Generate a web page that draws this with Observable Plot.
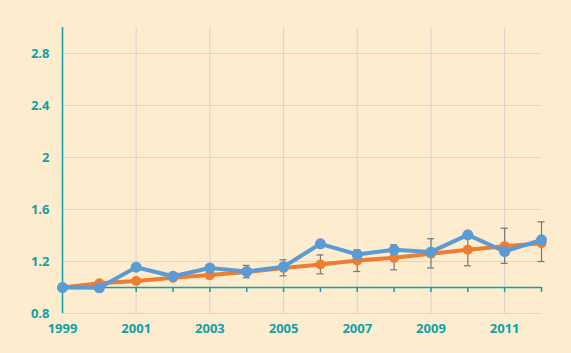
<!DOCTYPE html>
<html>
<head>
<meta charset="utf-8">
<script src="https://cdn.jsdelivr.net/npm/d3@7"></script>
<script src="https://cdn.jsdelivr.net/npm/@observablehq/plot@0.6"></script>
<style>
  html, body { margin: 0; padding: 0; background: #fdedce; }
  #chart { width: 571px; height: 353px; }
</style>
</head>
<body>
<div id="chart"></div>
<script>
const years = [1999, 2000, 2001, 2002, 2003, 2004, 2005, 2006, 2007, 2008, 2009, 2010, 2011, 2012];
const trend = [1.0, 1.033, 1.05, 1.075, 1.097, 1.12, 1.15, 1.177, 1.208, 1.228, 1.259, 1.29, 1.318, 1.34];
const observed = [1.0, 0.998, 1.156, 1.087, 1.15, 1.123, 1.16, 1.336, 1.254, 1.29, 1.274, 1.405, 1.277, 1.367];
const errLow = [1.0, 1.03, 1.04, 1.06, 1.067, 1.075, 1.09, 1.105, 1.123, 1.136, 1.15, 1.167, 1.185, 1.2];
const errHigh = [1.0, 1.036, 1.06, 1.09, 1.127, 1.17, 1.213, 1.25, 1.29, 1.328, 1.375, 1.41, 1.456, 1.505];
const xTicks = [1999, 2001, 2003, 2005, 2007, 2009, 2011];
const yTicks = [0.8, 1.2, 1.6, 2, 2.4, 2.8];

const rows = years.map((y, i) => ({year: y, trend: trend[i], observed: observed[i], lo: errLow[i], hi: errHigh[i]}));
const errRows = rows.filter(d => d.hi > d.lo);

const teal = "#12a0a6";
const grid = "#d9d6cf";

const chart = Plot.plot({
  width: 571,
  height: 353,
  marginLeft: 62,
  marginRight: 30,
  marginTop: 27,
  marginBottom: 40,
  style: {background: "#fdedce", fontFamily: "'Open Sans', sans-serif", fontWeight: "bold", fontSize: "13px", color: teal},
  x: {domain: [1999, 2012], ticks: xTicks, tickFormat: d => String(d), label: null},
  y: {domain: [0.8, 3.0], ticks: yTicks, tickFormat: d => String(d), label: null},
  marks: [
    Plot.ruleX(xTicks, {x: d => d, stroke: grid, strokeWidth: 1.2}),
    Plot.ruleY(yTicks, {y: d => d, stroke: grid, strokeWidth: 1.2}),
    Plot.ruleY([1], {stroke: teal, strokeWidth: 1.5}),
    Plot.ruleX(years.slice(1), {x: d => d, y1: 1, y2: 1, insetBottom: -5, stroke: teal, strokeWidth: 1.5}),
    Plot.ruleX([1999], {stroke: teal, strokeWidth: 1.5}),
    Plot.axisX({ticks: xTicks, tickFormat: d => String(d), tickSize: 0, tickPadding: 10, fill: teal, fontSize: 13, fontWeight: "bold", label: null}),
    Plot.axisY({ticks: yTicks, tickFormat: d => String(d), tickSize: 0, tickPadding: 13, fill: teal, fontSize: 13, fontWeight: "bold", label: null}),
    Plot.ruleX(errRows, {x: "year", y1: "lo", y2: "hi", stroke: "#777", strokeWidth: 1.2}),
    Plot.ruleY(errRows, {y: "lo", x1: "year", x2: "year", insetLeft: -3.5, insetRight: -3.5, stroke: "#777", strokeWidth: 1.2}),
    Plot.ruleY(errRows, {y: "hi", x1: "year", x2: "year", insetLeft: -3.5, insetRight: -3.5, stroke: "#777", strokeWidth: 1.2}),
    Plot.line(rows, {x: "year", y: "trend", stroke: "#ed7d31", strokeWidth: 4}),
    Plot.dot(rows, {x: "year", y: "trend", fill: "#ed7d31", r: 5}),
    Plot.line(rows, {x: "year", y: "observed", stroke: "#5b9bd5", strokeWidth: 4}),
    Plot.dot(rows, {x: "year", y: "observed", fill: "#5b9bd5", r: 5.5})
  ]
});
document.getElementById("chart").appendChild(chart);
</script>
</body>
</html>
